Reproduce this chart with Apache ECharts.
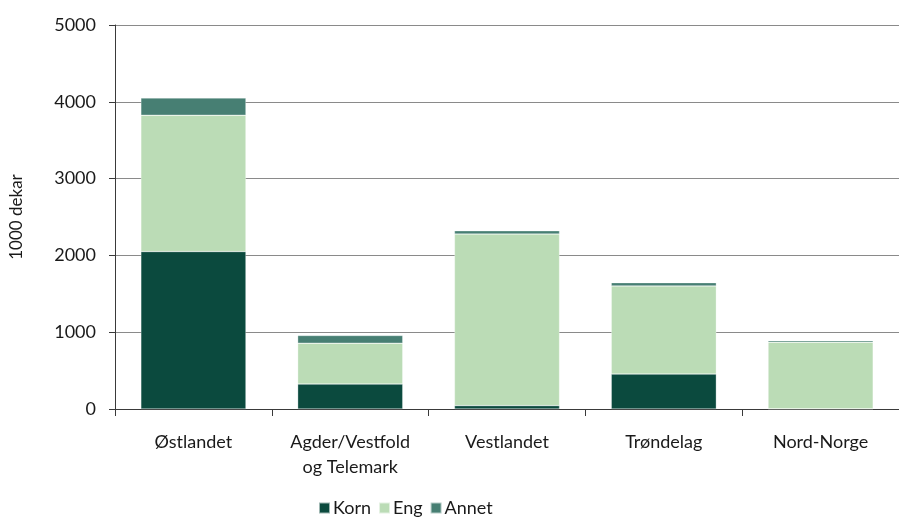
<!DOCTYPE html>
<html>
<head>
<meta charset="utf-8">
<script src="https://cdn.jsdelivr.net/npm/echarts@6/dist/echarts.min.js"></script>
<style>
  html, body { margin: 0; padding: 0; background: #fff; }
  #chart { width: 899px; height: 517px; }
</style>
</head>
<body>
<div id="chart"></div>
<script>
const regions = ['Østlandet', 'Agder/Vestfold\nog Telemark', 'Vestlandet', 'Trøndelag', 'Nord-Norge'];
const korn = [2050, 325, 44, 455, 3];
const eng = [1775, 532, 2234, 1148, 867];
const annet = [225, 100, 43, 42, 18];
const yTicks = [0, 1000, 2000, 3000, 4000, 5000];

const font = 'Lato, sans-serif';
const textColor = '#1a1a1a';

function barSeries(name, data, color) {
  return {
    name: name,
    type: 'bar',
    stack: 'total',
    barWidth: '67%',
    data: data,
    itemStyle: { color: color, borderColor: 'rgba(255,255,255,0.6)', borderWidth: 0.5 },
  };
}

const chart = echarts.init(document.getElementById('chart'), null, { renderer: 'canvas' });
chart.setOption({
  animation: false,
  textStyle: { fontFamily: font },
  grid: { left: 115, right: -2, top: 25, bottom: 108 },
  legend: {
    left: 313,
    top: 494,
    itemWidth: 11,
    itemHeight: 11,
    itemGap: 7,
    icon: 'rect',
    textStyle: { fontFamily: font, fontSize: 18, color: textColor, padding: [0, 0, 0, -2] },
    data: ['Korn', 'Eng', 'Annet'],
  },
  xAxis: {
    type: 'category',
    data: regions,
    axisLine: { lineStyle: { color: '#3a3a3a', width: 1 } },
    axisTick: { show: true, length: 7, lineStyle: { color: '#3a3a3a' } },
    axisLabel: { fontFamily: font, fontSize: 18, color: textColor, margin: 21, lineHeight: 25, interval: 0 },
  },
  yAxis: {
    type: 'value',
    name: '1000 dekar',
    nameLocation: 'middle',
    nameGap: 90,
    nameRotate: 90,
    nameTextStyle: { fontFamily: font, fontSize: 17, color: textColor },
    min: yTicks[0],
    max: yTicks[yTicks.length - 1],
    interval: 1000,
    axisLine: { show: true, lineStyle: { color: '#3a3a3a', width: 1 } },
    axisTick: { show: true, length: 6, lineStyle: { color: '#3a3a3a' } },
    axisLabel: { fontFamily: font, fontSize: 18, color: textColor, margin: 19, formatter: v => String(v) },
    splitLine: { lineStyle: { color: '#8a8a8a', width: 1 } },
  },
  series: [
    barSeries('Korn', korn, '#0b4a3e'),
    barSeries('Eng', eng, '#bbdcb6'),
    barSeries('Annet', annet, '#477f73'),
  ],
});
</script>
</body>
</html>
